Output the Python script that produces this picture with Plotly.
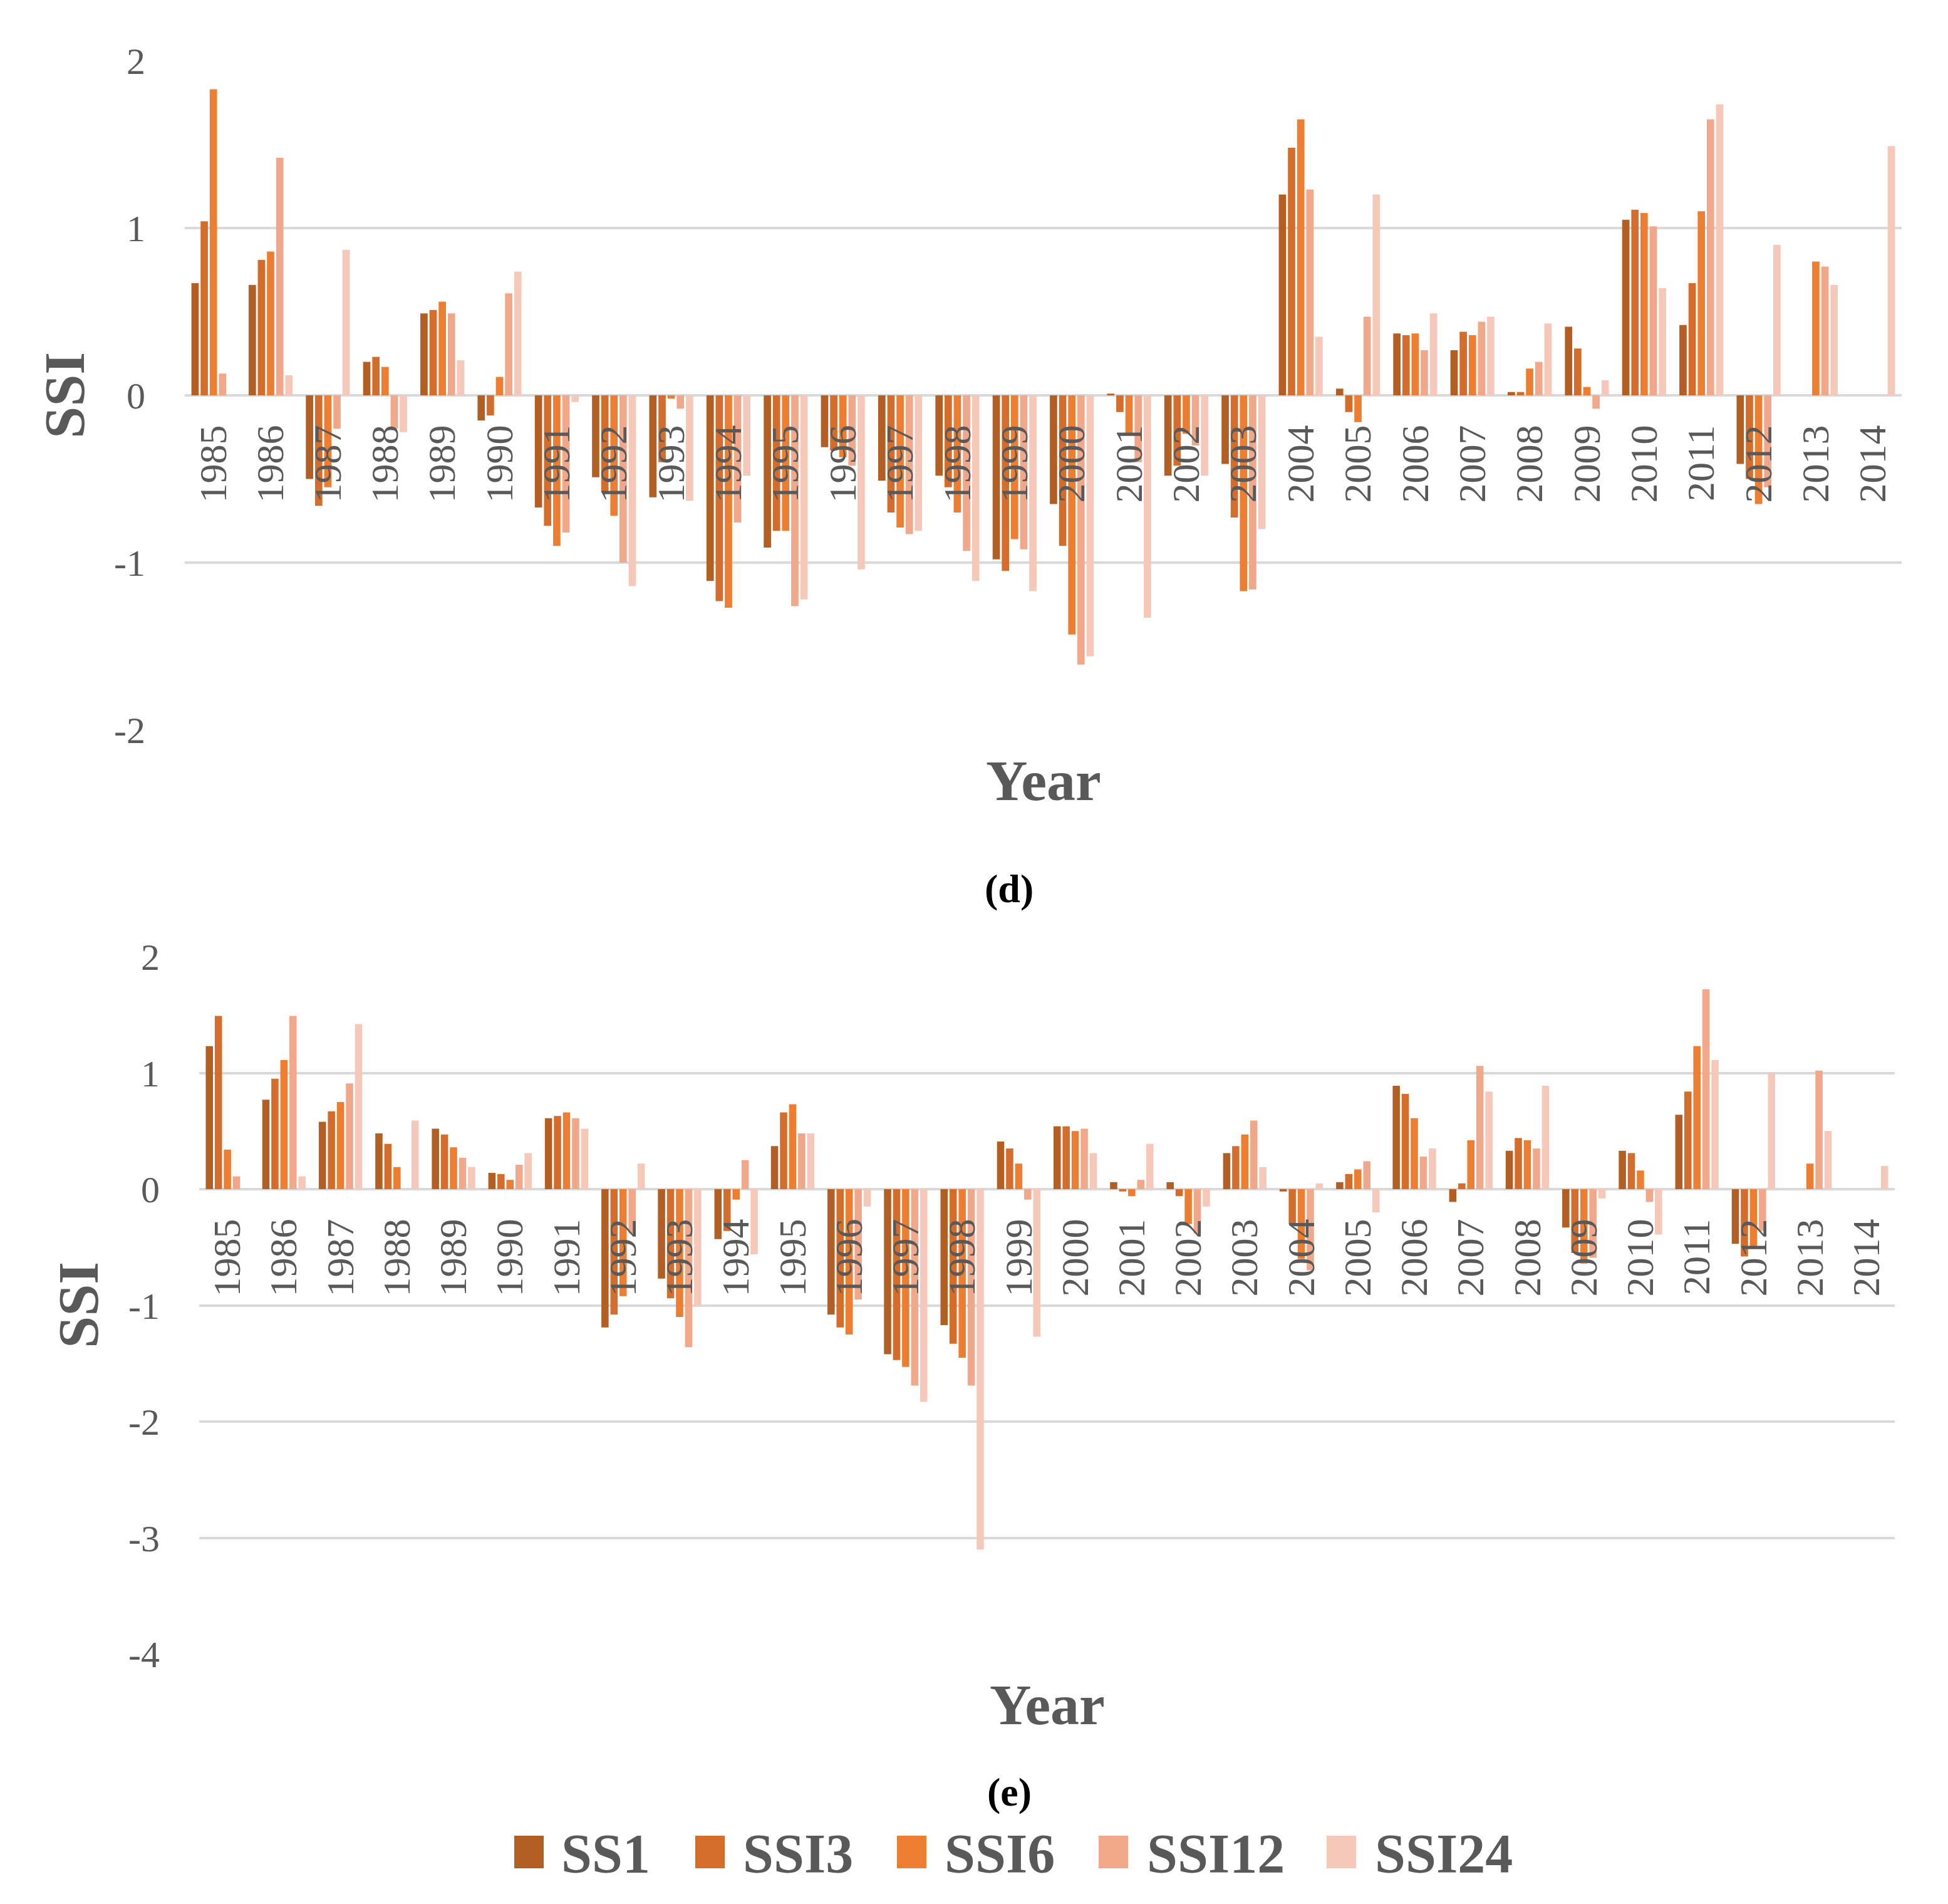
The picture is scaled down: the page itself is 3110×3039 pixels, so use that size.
import plotly.graph_objects as go

years = [str(y) for y in range(1985, 2015)]
names = ["SS1", "SSI3", "SSI6", "SSI12", "SSI24"]
colors = ["#B35F24", "#D46D2B", "#ED7D31", "#F1A78A", "#F5C8B9"]

# panel (d)
d_ss1 = [0.67, 0.66, -0.50, 0.20, 0.49, -0.15, -0.67, -0.49, -0.61, -1.11,
         -0.91, -0.31, -0.51, -0.48, -0.98, -0.65, 0.01, -0.48, -0.41, 1.20,
         0.04, 0.37, 0.27, 0.02, 0.41, 1.05, 0.42, -0.41, 0.0, 0.0]
d_ssi3 = [1.04, 0.81, -0.66, 0.23, 0.51, -0.12, -0.78, -0.58, -0.40, -1.23,
          -0.81, -0.33, -0.70, -0.55, -1.05, -0.90, -0.10, -0.42, -0.73, 1.48,
          -0.10, 0.36, 0.38, 0.02, 0.28, 1.11, 0.67, -0.50, 0.0, 0.0]
d_ssi6 = [1.83, 0.86, -0.55, 0.17, 0.56, 0.11, -0.90, -0.72, -0.02, -1.27,
          -0.81, -0.37, -0.79, -0.70, -0.86, -1.43, -0.23, -0.23, -1.17, 1.65,
          -0.16, 0.37, 0.36, 0.16, 0.05, 1.09, 1.10, -0.65, 0.80, 0.0]
d_ssi12 = [0.13, 1.42, -0.20, -0.20, 0.49, 0.61, -0.82, -1.00, -0.08, -0.76,
           -1.26, -0.42, -0.83, -0.93, -0.92, -1.61, -0.40, -0.30, -1.16, 1.23,
           0.47, 0.27, 0.44, 0.20, -0.08, 1.01, 1.65, -0.55, 0.77, 0.0]
d_ssi24 = [0.0, 0.12, 0.87, -0.22, 0.21, 0.74, -0.04, -1.14, -0.63, -0.48,
           -1.22, -1.04, -0.81, -1.11, -1.17, -1.56, -1.33, -0.48, -0.80, 0.35,
           1.20, 0.49, 0.47, 0.43, 0.09, 0.64, 1.74, 0.90, 0.66, 1.49]

# panel (e)
e_ss1 = [1.23, 0.77, 0.58, 0.48, 0.52, 0.14, 0.61, -1.19, -0.77, -0.43,
         0.37, -1.08, -1.42, -1.17, 0.41, 0.54, 0.06, 0.06, 0.31, -0.02,
         0.06, 0.89, -0.11, 0.33, -0.33, 0.33, 0.64, -0.47, 0.0, 0.0]
e_ssi3 = [1.49, 0.95, 0.67, 0.39, 0.47, 0.13, 0.63, -1.08, -0.94, -0.36,
          0.66, -1.19, -1.47, -1.33, 0.35, 0.54, -0.02, -0.06, 0.37, -0.30,
          0.13, 0.82, 0.05, 0.44, -0.55, 0.31, 0.84, -0.58, 0.0, 0.0]
e_ssi6 = [0.34, 1.11, 0.75, 0.19, 0.36, 0.08, 0.66, -0.92, -1.10, -0.09,
          0.73, -1.25, -1.53, -1.45, 0.22, 0.50, -0.06, -0.30, 0.47, -0.60,
          0.17, 0.61, 0.42, 0.42, -0.64, 0.16, 1.23, -0.50, 0.22, 0.0]
e_ssi12 = [0.11, 1.49, 0.91, 0.0, 0.27, 0.21, 0.61, -0.38, -1.36, 0.25,
           0.48, -0.95, -1.69, -1.69, -0.09, 0.52, 0.08, -0.38, 0.59, -0.70,
           0.24, 0.28, 1.06, 0.35, -0.59, -0.11, 1.72, -0.36, 1.02, 0.0]
e_ssi24 = [0.0, 0.11, 1.42, 0.59, 0.19, 0.31, 0.52, 0.22, -1.00, -0.56,
           0.48, -0.15, -1.83, -3.10, -1.27, 0.31, 0.39, -0.15, 0.19, 0.05,
           -0.20, 0.35, 0.84, 0.89, -0.08, -0.39, 1.11, 1.00, 0.50, 0.20]

ticks_d = [-2, -1, 0, 1, 2]
ticks_e = [-4, -3, -2, -1, 0, 1, 2]

panel_d = [d_ss1, d_ssi3, d_ssi6, d_ssi12, d_ssi24]
panel_e = [e_ss1, e_ssi3, e_ssi6, e_ssi12, e_ssi24]

font = "Liberation Serif"
grey = "#595959"
grid = "#D9D9D9"

# page body has an 8px margin, so the figure is a bit smaller than the window
W, H = 3094, 3023


def px(x):
    return (x - 8) / W


def py(y):
    return 1 - (y - 8) / H


fig = go.Figure()
for name, col, vals in zip(names, colors, panel_d):
    fig.add_trace(go.Bar(x=years, y=vals, name=name, marker_color=col,
                         marker_line_width=0, xaxis="x", yaxis="y", showlegend=False))
for name, col, vals in zip(names, colors, panel_e):
    fig.add_trace(go.Bar(x=years, y=vals, name=name, marker_color=col,
                         marker_line_width=0, xaxis="x2", yaxis="y2", showlegend=False))

xax = dict(type="category", tickangle=-90, ticks="", showgrid=False, zeroline=False,
           showline=False, ticklabelstandoff=34, automargin=False,
           tickfont=dict(family=font, size=62, color=grey))
yax = dict(showgrid=True, gridcolor=grid, gridwidth=3.5, zeroline=True, zerolinecolor=grid,
           zerolinewidth=3.5, showline=False, ticks="", ticklabelstandoff=62, automargin=False,
           tickfont=dict(family=font, size=60, color=grey))

fig.update_layout(
    width=W, height=H,
    margin=dict(l=0, r=0, t=0, b=0),
    paper_bgcolor="white", plot_bgcolor="white",
    barmode="group", bargap=0.2, bargroupgap=0.2,
    xaxis=dict(xax, domain=[px(295), px(3036)], anchor="free", position=py(631)),
    yaxis=dict(yax, domain=[py(1165), py(97)], range=[-2, 2], anchor="x",
               tickvals=ticks_d, ticktext=[str(t) for t in ticks_d]),
    xaxis2=dict(xax, domain=[px(318), px(3025)], anchor="free", position=py(1898)),
    yaxis2=dict(yax, domain=[py(2640), py(1527)], range=[-4, 2], anchor="x2",
                tickvals=ticks_e, ticktext=[str(t) for t in ticks_e]),
)

bold_grey = dict(family=font, size=92, color=grey, weight="bold")
cap = dict(family=font, size=64, color="black", weight="bold")
anns = [
    dict(text="SSI", x=px(103), y=py(631), textangle=-90, font=bold_grey),
    dict(text="SSI", x=px(125), y=py(2083), textangle=-90, font=bold_grey),
    dict(text="Year", x=px(1666), y=py(1246), font=bold_grey),
    dict(text="Year", x=px(1672), y=py(2721), font=bold_grey),
    dict(text="(d)", x=px(1611), y=py(1418), font=cap),
    dict(text="(e)", x=px(1611), y=py(2860), font=cap),
]

# legend drawn by hand so the swatches match the big text
sq_left = [821, 1110, 1432, 1754, 2118]
txt_left = [894, 1184, 1506, 1829, 2193]
shapes = []
for name, col, sx, tx in zip(names, colors, sq_left, txt_left):
    shapes.append(dict(type="rect", xref="paper", yref="paper",
                       x0=px(sx), x1=px(sx + 47), y0=py(2982), y1=py(2930),
                       fillcolor=col, line_width=0))
    anns.append(dict(text=name, x=px(tx), y=py(2958), xanchor="left",
                     font=dict(family=font, size=88, color=grey, weight="bold")))

for a in anns:
    a.setdefault("xref", "paper")
    a.setdefault("yref", "paper")
    a.setdefault("xanchor", "center")
    a.setdefault("yanchor", "middle")
    a.setdefault("showarrow", False)
fig.update_layout(annotations=anns, shapes=shapes)

fig.write_html("out.html")
